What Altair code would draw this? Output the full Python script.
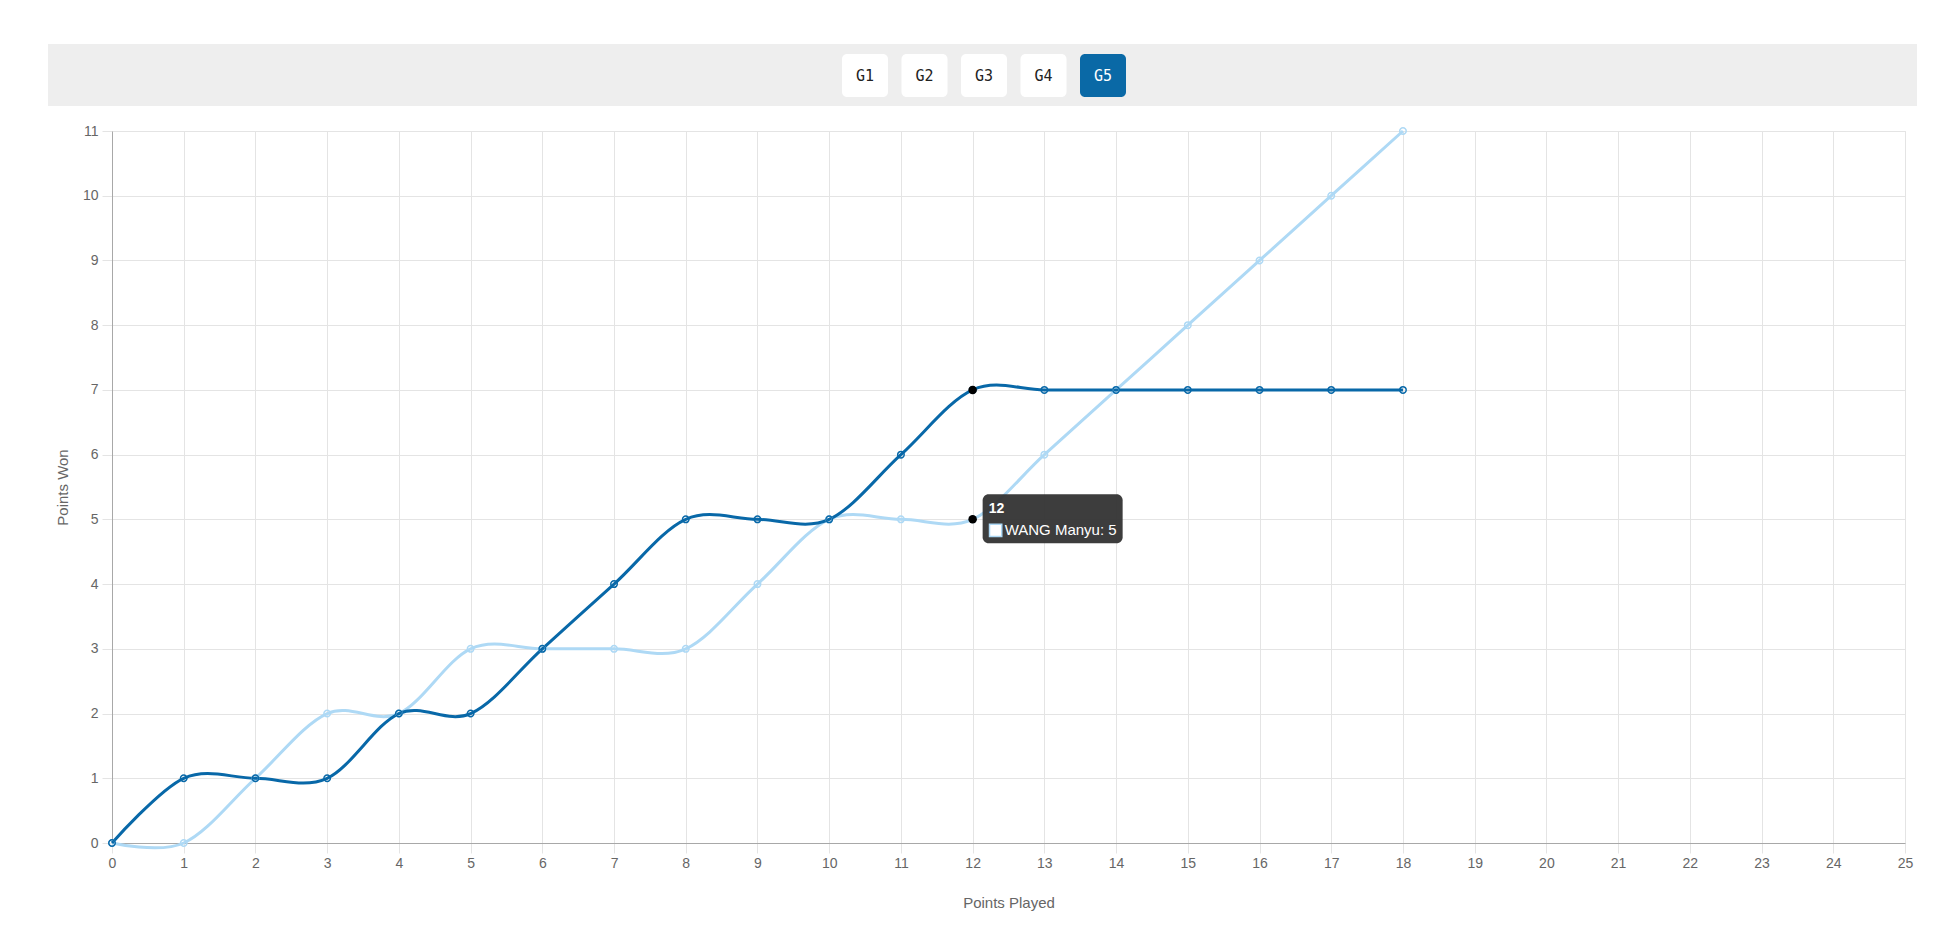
import altair as alt
import pandas as pd

# ---- data ----
points_played = list(range(19))
opponent_won = [0, 1, 1, 1, 2, 2, 3, 4, 5, 5, 5, 6, 7, 7, 7, 7, 7, 7, 7]
wang_won = [0, 0, 1, 2, 2, 3, 3, 3, 3, 4, 5, 5, 5, 6, 7, 8, 9, 10, 11]
series_names = ["Opponent", "WANG Manyu"]
series_colors = ["#0868a8", "#aed9f5"]

game_buttons = ["G1", "G2", "G3", "G4", "G5"]
active_game = "G5"

hover_x = 12
hover_name = "WANG Manyu"
hover_value = wang_won[hover_x]
hover_points_y = [opponent_won[hover_x], wang_won[hover_x]]

# ---- tables ----
df = pd.DataFrame({
    "played": points_played * 2,
    "won": opponent_won + wang_won,
    "player": [series_names[0]] * len(points_played) + [series_names[1]] * len(points_played),
})
btn_df = pd.DataFrame({"label": game_buttons})
hover_df = pd.DataFrame({"played": [hover_x] * 2, "won": hover_points_y})
tip_df = pd.DataFrame({"played": [hover_x], "won": [hover_value],
                       "title": [str(hover_x)], "body": [f"{hover_name}: {hover_value}"]})

W, H = 1793, 712
FONT = "Liberation Sans"

xscale = alt.Scale(domain=[0, 25], nice=False)
yscale = alt.Scale(domain=[0, 11], nice=False)

xaxis = alt.Axis(values=list(range(26)), format="d", title="Points Played", labelFontSize=14,
                 titleFontSize=15, labelColor="#666", titleColor="#666", titleFontWeight="normal",
                 labelFont=FONT, titleFont=FONT, gridColor="#e4e4e4", tickColor="#e4e4e4",
                 domainColor="#a8a8a8", tickSize=10, labelPadding=3, titlePadding=25,
                 labelFlush=False)
yaxis = alt.Axis(values=list(range(12)), format="d", title="Points Won", labelFontSize=14,
                 titleFontSize=15, labelColor="#666", titleColor="#666", titleFontWeight="normal",
                 labelFont=FONT, titleFont=FONT, gridColor="#e4e4e4", tickColor="#e4e4e4",
                 domainColor="#a8a8a8", tickSize=10, labelPadding=4, titlePadding=12)

base = alt.Chart(df)
light_line = base.transform_filter(alt.datum.player == series_names[1]).mark_line(
    interpolate="cardinal", strokeWidth=3, color=series_colors[1]).encode(
    x=alt.X("played:Q", scale=xscale, axis=xaxis),
    y=alt.Y("won:Q", scale=yscale, axis=yaxis))
dark_line = base.transform_filter(alt.datum.player == series_names[0]).mark_line(
    interpolate="cardinal", strokeWidth=3, color=series_colors[0]).encode(
    x="played:Q", y="won:Q")
light_pts = base.transform_filter(alt.datum.player == series_names[1]).mark_point(
    filled=False, size=42, strokeWidth=1.5, color=series_colors[1], opacity=1).encode(
    x="played:Q", y="won:Q")
dark_pts = base.transform_filter(alt.datum.player == series_names[0]).mark_point(
    filled=False, size=42, strokeWidth=1.5, color=series_colors[0], opacity=1).encode(
    x="played:Q", y="won:Q")

hover_pts = alt.Chart(hover_df).mark_point(filled=True, size=72, color="black", opacity=1).encode(
    x="played:Q", y="won:Q")

tip_base = alt.Chart(tip_df)
tip_box = tip_base.mark_rect(color="#333333", opacity=0.95, cornerRadius=6,
                             xOffset=10, x2Offset=150, yOffset=-25, y2Offset=24).encode(
    x="played:Q", x2="played:Q", y="won:Q", y2="won:Q")
tip_title = tip_base.mark_text(align="left", baseline="middle", dx=16, dy=-10, fontSize=14,
                               fontWeight="bold", color="white", font=FONT).encode(
    x="played:Q", y="won:Q", text="title:N")
tip_swatch = tip_base.mark_point(shape="square", filled=True, size=150, fill="white",
                                 stroke=series_colors[1], strokeWidth=1.5, opacity=1,
                                 xOffset=23, yOffset=11).encode(x="played:Q", y="won:Q")
tip_body = tip_base.mark_text(align="left", baseline="middle", dx=32, dy=11, fontSize=15,
                              color="white", font=FONT).encode(
    x="played:Q", y="won:Q", text="body:N")

main = alt.layer(light_line, dark_line, light_pts, dark_pts, hover_pts,
                 tip_box, tip_title, tip_swatch, tip_body)

# ---- top button bar (pixel positions relative to plot origin) ----
band = alt.Chart(pd.DataFrame({"k": [0]})).mark_rect(color="#eeeeee").encode(
    x=alt.value(-64), x2=alt.value(1805), y=alt.value(-87), y2=alt.value(-25))

btn_base = alt.Chart(btn_df).transform_window(
    idx="row_number()"
).transform_calculate(
    bx0="730 + 59.5 * (datum.idx - 1)",
    bx1="730 + 59.5 * (datum.idx - 1) + 46",
    bxc="730 + 59.5 * (datum.idx - 1) + 23",
    by0="-77", by1="-34", byc="-55",
)
btn_rect = btn_base.mark_rect(cornerRadius=5).encode(
    x=alt.X("bx0:Q", scale=None, axis=None),
    x2="bx1:Q",
    y=alt.Y("by0:Q", scale=None, axis=None),
    y2="by1:Q",
    color=alt.condition(alt.datum.label == active_game, alt.value("#0a69a6"), alt.value("white")),
)
btn_text = btn_base.mark_text(fontSize=15, font="DejaVu Sans Mono", baseline="middle").encode(
    x=alt.X("bxc:Q", scale=None, axis=None),
    y=alt.Y("byc:Q", scale=None, axis=None),
    text="label:N",
    color=alt.condition(alt.datum.label == active_game, alt.value("white"), alt.value("#222222")),
)
decor = alt.layer(band, btn_rect, btn_text)

chart = alt.layer(decor, main).resolve_scale(x="independent", y="independent").properties(
    width=W, height=H,
    autosize=alt.AutoSizeParams(type="none"),
    padding={"left": 104, "top": 123, "right": 47, "bottom": 70},
).configure_view(stroke=None).configure(background="white")

chart.save("out.html", embed_options={"renderer": "svg", "actions": False})
